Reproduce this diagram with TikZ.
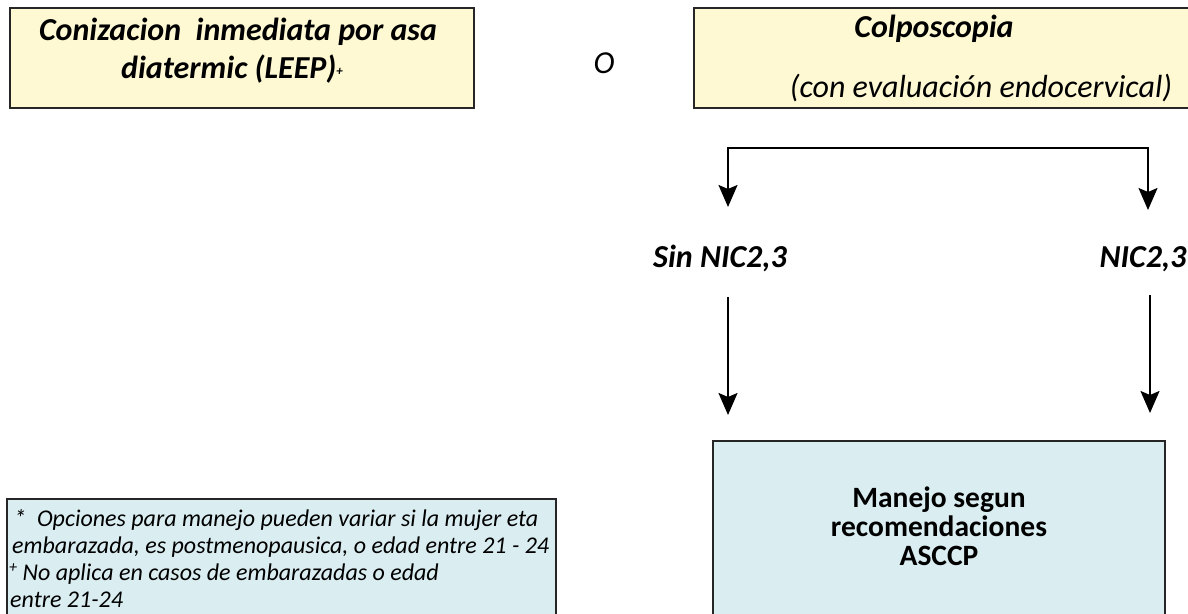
\documentclass[tikz,border=0pt]{standalone}
\usepackage{fontspec}
\setmainfont{Carlito}
\usetikzlibrary{arrows.meta}
\definecolor{ylw}{HTML}{FEF9D3}
\definecolor{blu}{HTML}{DAEDF1}
\begin{document}
\begin{tikzpicture}[x=1pt,y=-1pt,
  ybox/.style={draw=black!85, line width=1.4pt, fill=ylw, inner sep=0pt},
  bbox/.style={draw=black!85, line width=1.4pt, fill=blu, inner sep=0pt},
  arr/.style={line width=2pt, -{Stealth[length=22pt,width=19pt,inset=4pt]}},
  dblarr/.style={line width=2pt, {Stealth[length=22pt,width=19pt,inset=4pt]}-{Stealth[length=22pt,width=19pt,inset=4pt]}},
  bi/.style={font=\fontsize{32}{38}\selectfont\bfseries\itshape, inner sep=0pt},
  it/.style={font=\fontsize{32}{38}\selectfont\itshape, inner sep=0pt},
  bu/.style={font=\fontsize{29.5}{30}\selectfont\bfseries, inner sep=0pt, text height=19pt, text depth=5pt},
  sm/.style={font=\fontsize{24}{27}\selectfont\itshape, inner sep=0pt, text height=16pt, text depth=5pt},
 ]
\useasboundingbox (0,0) rectangle (1188,613);
\clip (0,0) rectangle (1188,613);
\fill[white] (0,0) rectangle (1188,613);
% boxes
\node[ybox, minimum width=464pt, minimum height=100pt] (b1) at (242,58) {};
\node[ybox, minimum width=506pt, minimum height=100pt] (b2) at (947,58) {};
\node[bbox, minimum width=452pt, minimum height=190pt] (b3) at (939,536) {};
\node[bbox, minimum width=549pt, minimum height=130pt] (b4) at (281.5,564) {};
% box 1 text
\node[bi, anchor=base] (t1a) at (238,40) {Conizacion\ \ inmediata por asa};
\node[bi, anchor=base] (t1b) at (232,78) {diatermic (LEEP)\raisebox{3pt}{\fontsize{13}{13}\selectfont +}};
% O
\node[it] (o) at (604,63) {O};
% box 2 text
\node[bi, anchor=base] (t2a) at (934,37) {Colposcopia};
\node[it, anchor=base] (t2b) at (981,97) {(con evaluación endocervical)};
% labels
\node[bi, anchor=base] (sin) at (720,267) {Sin NIC2,3};
\node[bi, anchor=base] (nic) at (1143,267) {NIC2,3};
% box 3 text
\node[bu, anchor=base] (t3a) at (939,507) {Manejo segun};
\node[bu, anchor=base] (t3b) at (939,536) {recomendaciones};
\node[bu, anchor=base] (t3c) at (939,565) {ASCCP};
% box 4 text
\node[sm, anchor=base west] (t4a) at (14,526) {*\ \ Opciones para manejo pueden variar si la mujer eta};
\node[sm, anchor=base west] (t4b) at (12,553) {embarazada, es postmenopausica, o edad entre 21 - 24};
\node[sm, anchor=base west] (t4c) at (9,580) {\raisebox{8pt}{\fontsize{16}{16}\selectfont +} No aplica en casos de embarazadas o edad};
\node[sm, anchor=base west] (t4d) at (10,607) {entre 21-24};
% connectors
\coordinate (kl) at (728,148);
\coordinate (kr) at (1148,148);
\coordinate (al) at (728,207);
\coordinate (ar) at (1148,210);
\draw[dblarr, line join=miter] (al) -- (kl) -- (kr) -- (ar);
\coordinate (s1) at (728,297);
\coordinate (e1) at (728,415);
\coordinate (s2) at (1150,295);
\coordinate (e2) at (1150,413);
\draw[arr] (s1) -- (e1);
\draw[arr] (s2) -- (e2);
\end{tikzpicture}
\end{document}
